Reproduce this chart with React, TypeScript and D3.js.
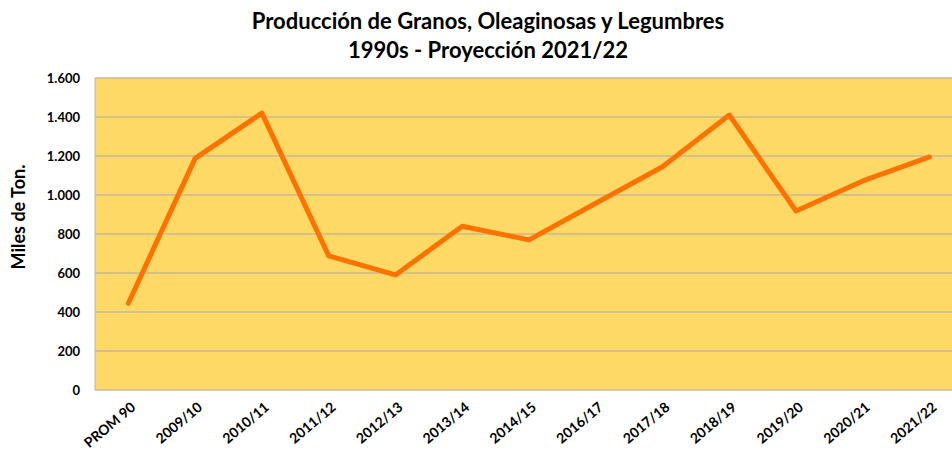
import React, { useEffect, useRef } from 'react';
import * as d3 from 'd3';

const categories = [
  'PROM 90', '2009/10', '2010/11', '2011/12', '2012/13', '2013/14', '2014/15',
  '2016/17', '2017/18', '2018/19', '2019/20', '2020/21', '2021/22',
];
const production = [445, 1188, 1420, 688, 590, 840, 770, 958, 1145, 1410, 918, 1072, 1195];
const yTicks = [0, 200, 400, 600, 800, 1000, 1200, 1400, 1600];
const titleLines = ['Producción de Granos, Oleaginosas y Legumbres', '1990s - Proyección 2021/22'];

const FONT = 'Lato, "Open Sans", sans-serif';

const App: React.FC = () => {
  const ref = useRef<SVGSVGElement>(null);

  useEffect(() => {
    document.body.style.margin = '0';
    if (!ref.current) return;
    const svg = d3.select(ref.current);
    svg.selectAll('*').remove();

    // plot area (right edge runs past the picture, as in the original)
    const left = 95;
    const right = 963;
    const top = 78;
    const bottom = 390;

    const x = d3.scaleBand<string>().domain(categories).range([left, right]);
    const y = d3.scaleLinear().domain([0, 1600]).range([bottom, top]);

    svg.append('rect')
      .attr('x', left)
      .attr('y', top)
      .attr('width', right - left)
      .attr('height', bottom - top)
      .attr('fill', '#FFD966');

    // gridlines
    svg.append('g')
      .selectAll('line')
      .data(yTicks)
      .join('line')
      .attr('x1', left)
      .attr('x2', right)
      .attr('y1', d => y(d))
      .attr('y2', d => y(d))
      .attr('stroke', '#c4b998')
      .attr('stroke-width', 1.3);

    // left axis line
    svg.append('line')
      .attr('x1', left).attr('x2', left)
      .attr('y1', top).attr('y2', bottom)
      .attr('stroke', '#b8b8b8')
      .attr('stroke-width', 1);

    // y tick labels
    const fmt = (v: number) => d3.format(',')(v).replace(/,/g, '.');
    svg.append('g')
      .selectAll('text')
      .data(yTicks)
      .join('text')
      .attr('x', 80)
      .attr('y', d => y(d))
      .attr('dy', '0.35em')
      .attr('text-anchor', 'end')
      .style('font-family', FONT)
      .style('font-size', '13px')
      .style('font-weight', 'bold')
      .attr('fill', '#000')
      .text(d => fmt(d));

    // y axis title
    svg.append('text')
      .attr('transform', `translate(25,217) rotate(-90)`)
      .attr('text-anchor', 'middle')
      .style('font-family', FONT)
      .style('font-size', '18px')
      .style('font-weight', 'bold')
      .text('Miles de Ton.');

    // x tick labels, rotated
    svg.append('g')
      .selectAll('text')
      .data(categories)
      .join('text')
      .attr('transform', d => `translate(${x(d)! + x.bandwidth() / 2 + 5},${bottom + 15}) rotate(-40)`)
      .attr('text-anchor', 'end')
      .attr('dy', '0.35em')
      .style('font-family', FONT)
      .style('font-size', '14px')
      .style('font-weight', 'bold')
      .text(d => d);

    // series line
    const line = d3.line<number>()
      .x((_, i) => x(categories[i])! + x.bandwidth() / 2)
      .y(d => y(d));

    svg.append('path')
      .datum(production)
      .attr('d', line)
      .attr('fill', 'none')
      .attr('stroke', '#FF7200')
      .attr('stroke-width', 5)
      .attr('stroke-linejoin', 'round')
      .attr('stroke-linecap', 'round');

    // title
    svg.append('g')
      .selectAll('text')
      .data(titleLines)
      .join('text')
      .attr('x', 488)
      .attr('y', (_, i) => 29 + i * 29)
      .attr('text-anchor', 'middle')
      .style('font-family', FONT)
      .style('font-size', '22px')
      .style('font-weight', 'bold')
      .attr('fill', '#000')
      .text(d => d);
  }, []);

  return <svg ref={ref} width={952} height={452} style={{ display: 'block' }}></svg>;
};

export default App;
